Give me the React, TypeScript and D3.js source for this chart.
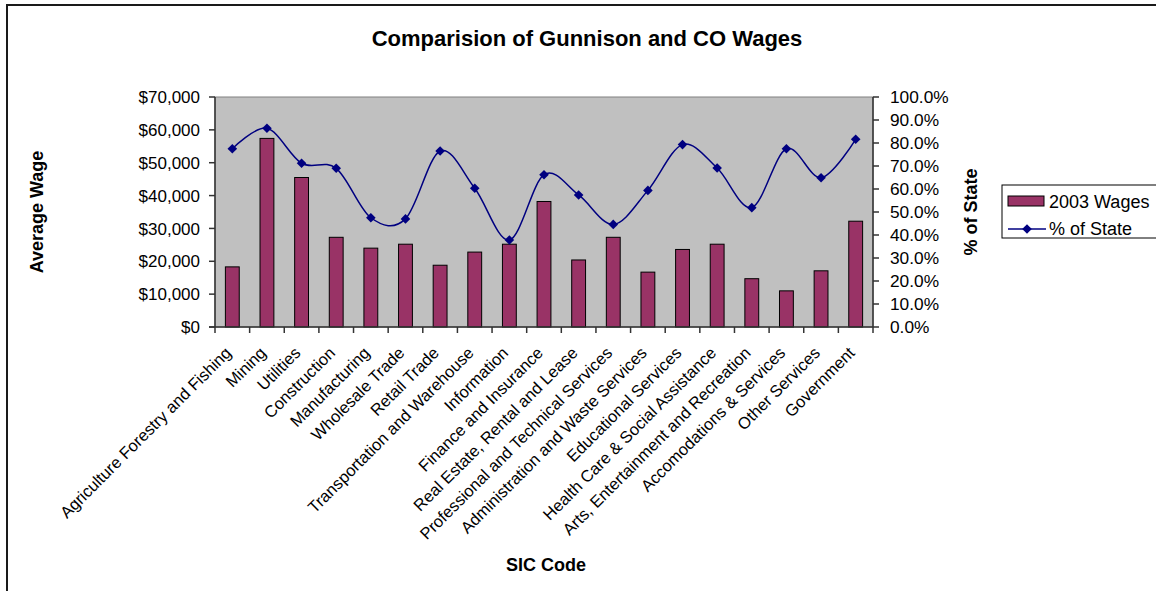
import React from 'react';
import * as d3 from 'd3';

const categories = [
  'Agriculture Forestry and Fishing',
  'Mining',
  'Utilities',
  'Construction',
  'Manufacturing',
  'Wholesale Trade',
  'Retail Trade',
  'Transportation and Warehouse',
  'Information',
  'Finance and Insurance',
  'Real Estate, Rental and Lease',
  'Professional and Technical Services',
  'Administration and Waste Services',
  'Educational Services',
  'Health Care & Social Assistance',
  'Arts, Entertainment and Recreation',
  'Accomodations & Services',
  'Other Services',
  'Government',
];

const wages2003 = [
  18300, 57400, 45500, 27300, 24000, 25200, 18800, 22800, 25200, 38200,
  20400, 27300, 16700, 23600, 25200, 14700, 11000, 17100, 32200,
];

const pctOfState = [
  0.775, 0.864, 0.712, 0.69, 0.475, 0.47, 0.765, 0.603, 0.378, 0.662,
  0.574, 0.446, 0.594, 0.793, 0.691, 0.519, 0.775, 0.649, 0.816,
];

const wageTicks = [0, 10000, 20000, 30000, 40000, 50000, 60000, 70000];
const pctTicks = [0, 0.1, 0.2, 0.3, 0.4, 0.5, 0.6, 0.7, 0.8, 0.9, 1.0];

const FONT = '"Liberation Sans", Arial, sans-serif';

export default function App() {
  const W = 1156;
  const H = 591;
  const L = 215, R = 873, T = 97, B = 327;

  const x = d3.scaleBand<string>().domain(categories).range([L, R]).padding(0);
  const bw = x.bandwidth();
  const y = d3.scaleLinear().domain([0, 70000]).range([B, T]);
  const y2 = d3.scaleLinear().domain([0, 1]).range([B, T]);
  const barW = bw / 2.5;
  const cx = (i: number) => (x(categories[i]) as number) + bw / 2;

  const linePath = d3
    .line<number>()
    .x((_, i) => cx(i))
    .y((d) => y2(d))
    .curve(d3.curveCardinal.tension(0))(pctOfState) as string;

  const fmtWage = (v: number) => '$' + d3.format(',')(v);
  const fmtPct = d3.format('.1%');
  const diamond = 'M0,-4.8L4.8,0L0,4.8L-4.8,0Z';
  const navy = '#000080';
  const barFill = '#993366';

  const boundaries = d3.range(categories.length + 1).map((i) => L + i * bw);

  return (
    <svg
      width={W}
      height={H}
      style={{ position: 'absolute', left: 0, top: 0, display: 'block', background: '#fff' }}
      fontFamily={FONT}
    >
      <rect x={7} y={5} width={1300} height={800} fill="#fff" stroke="#1a1a1a" strokeWidth={2} />

      <text x={587} y={46} textAnchor="middle" fontSize={22} fontWeight="bold" fill="#000">
        Comparision of Gunnison and CO Wages
      </text>

      {/* plot area */}
      <rect x={L} y={T} width={R - L} height={B - T} fill="#C0C0C0" stroke="#808080" strokeWidth={1} />

      {/* bars */}
      {wages2003.map((v, i) => (
        <rect
          key={'b' + i}
          x={cx(i) - barW / 2}
          y={y(v)}
          width={barW}
          height={B - y(v)}
          fill={barFill}
          stroke="#000"
          strokeWidth={1}
        />
      ))}

      {/* line */}
      <path d={linePath} fill="none" stroke={navy} strokeWidth={1.5} />
      {pctOfState.map((v, i) => (
        <path key={'m' + i} d={diamond} transform={`translate(${cx(i)},${y2(v)})`} fill={navy} />
      ))}

      {/* left axis */}
      <line x1={L} x2={L} y1={T} y2={B} stroke="#333" strokeWidth={1.5} />
      {wageTicks.map((t) => (
        <g key={'yt' + t}>
          <line x1={L - 6} x2={L} y1={y(t)} y2={y(t)} stroke="#333" strokeWidth={1.5} />
          <text x={200} y={y(t)} dy="0.36em" textAnchor="end" fontSize={17} fill="#000">
            {fmtWage(t)}
          </text>
        </g>
      ))}

      {/* right axis */}
      <line x1={R} x2={R} y1={T} y2={B} stroke="#333" strokeWidth={1.5} />
      {pctTicks.map((t) => (
        <g key={'y2t' + t}>
          <line x1={R} x2={R + 6} y1={y2(t)} y2={y2(t)} stroke="#333" strokeWidth={1.5} />
          <text x={890} y={y2(t)} dy="0.36em" textAnchor="start" fontSize={17.3} fill="#000">
            {fmtPct(t)}
          </text>
        </g>
      ))}

      {/* bottom axis */}
      <line x1={L - 6} x2={R} y1={B} y2={B} stroke="#333" strokeWidth={1.5} />
      {boundaries.map((bx, i) => (
        <line key={'xt' + i} x1={bx} x2={bx} y1={B} y2={B + 6} stroke="#333" strokeWidth={1.5} />
      ))}

      {categories.map((c, i) => (
        <text
          key={'xl' + i}
          transform={`translate(${cx(i)},${354}) rotate(-45)`}
          textAnchor="end"
          fontSize={16.5}
          fill="#000"
        >
          {c}
        </text>
      ))}

      {/* axis titles */}
      <text
        transform={`translate(43,${(T + B) / 2}) rotate(-90)`}
        textAnchor="middle"
        fontSize={18}
        fontWeight="bold"
        fill="#000"
      >
        Average Wage
      </text>
      <text
        transform={`translate(977,${(T + B) / 2}) rotate(-90)`}
        textAnchor="middle"
        fontSize={18}
        fontWeight="bold"
        fill="#000"
      >
        % of State
      </text>
      <text x={546} y={571} textAnchor="middle" fontSize={18} fontWeight="bold" fill="#000">
        SIC Code
      </text>

      {/* legend */}
      <rect x={1002} y={185} width={170} height={53} fill="#fff" stroke="#000" strokeWidth={1} />
      <rect x={1008} y={196} width={36} height={10} fill={barFill} stroke="#000" strokeWidth={1} />
      <text x={1049} y={208} fontSize={18} fill="#000">
        2003 Wages
      </text>
      <line x1={1008} x2={1046} y1={229} y2={229} stroke={navy} strokeWidth={1.5} />
      <path d={diamond} transform="translate(1027,229)" fill={navy} />
      <text x={1049} y={235} fontSize={18} fill="#000">
        % of State
      </text>
    </svg>
  );
}
